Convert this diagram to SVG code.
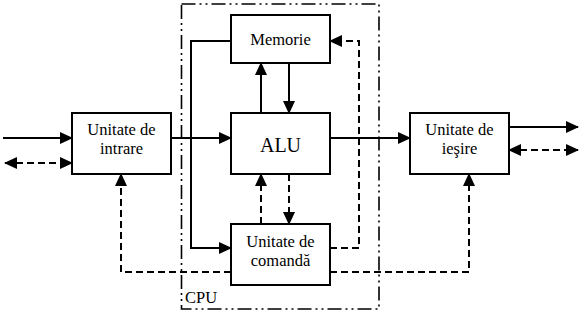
<svg xmlns="http://www.w3.org/2000/svg" width="580" height="312" viewBox="0 0 580 312">
<style>
.box{fill:#fff;stroke:#000;stroke-width:2}
.t{font-family:"Liberation Serif","Times New Roman",serif;font-size:16.5px;fill:#000;text-anchor:middle}
.c{fill:none;stroke:#000;stroke-width:2}
.d{stroke-dasharray:7 4}
.cpu{fill:none;stroke:#000;stroke-width:1.6;stroke-dasharray:14 4 2 4 2 4}
</style>
<defs>
<marker id="a" markerUnits="userSpaceOnUse" markerWidth="13" markerHeight="12" refX="12" refY="6" orient="auto-start-reverse">
<path d="M0,0 L13,6 L0,12 z" fill="#000"/>
</marker>
</defs>
<g id="cpu">
<rect class="cpu" x="181.5" y="4" width="197.5" height="305"/>
<text class="t" x="185" y="303" style="text-anchor:start">CPU</text>
</g>
<g id="connectors">
<path class="c" d="M3,138 H72" marker-end="url(#a)"/>
<path class="c d" d="M5,163 H72" marker-start="url(#a)" marker-end="url(#a)"/>
<path class="c" d="M171,138 H231" marker-end="url(#a)"/>
<path class="c" d="M330,138 H410" marker-end="url(#a)"/>
<path class="c" d="M509,127 H578" marker-end="url(#a)"/>
<path class="c d" d="M509,150 H578" marker-start="url(#a)" marker-end="url(#a)"/>
<path class="c" d="M231,41 H191 V248 H231" marker-end="url(#a)"/>
<path class="c" d="M261,113 V63" marker-end="url(#a)"/>
<path class="c" d="M289,63 V113" marker-end="url(#a)"/>
<path class="c d" d="M261,224 V174" marker-end="url(#a)"/>
<path class="c d" d="M289,174 V224" marker-end="url(#a)"/>
<path class="c d" d="M330,248 H359 V41 H330" marker-end="url(#a)"/>
<path class="c d" d="M231,272 H121 V174" marker-end="url(#a)"/>
<path class="c d" d="M330,272 H469 V174" marker-end="url(#a)"/>
</g>
<g id="memorie">
<rect class="box" x="231" y="15" width="99" height="48"/>
<text class="t" x="280.5" y="45">Memorie</text>
</g>
<g id="alu">
<rect class="box" x="231" y="113" width="99" height="61"/>
<text class="t" x="280.5" y="152" style="font-size:20px">ALU</text>
</g>
<g id="comanda">
<rect class="box" x="231" y="224" width="99" height="61"/>
<text class="t" x="280.5" y="247">Unitate de</text>
<text class="t" x="280.5" y="266">comandă</text>
</g>
<g id="intrare">
<rect class="box" x="72" y="113" width="99" height="61"/>
<text class="t" x="121.5" y="135">Unitate de</text>
<text class="t" x="121.5" y="154">intrare</text>
</g>
<g id="iesire">
<rect class="box" x="410" y="113" width="99" height="61"/>
<text class="t" x="459.5" y="135">Unitate de</text>
<text class="t" x="459.5" y="154">ieşire</text>
</g>
</svg>
